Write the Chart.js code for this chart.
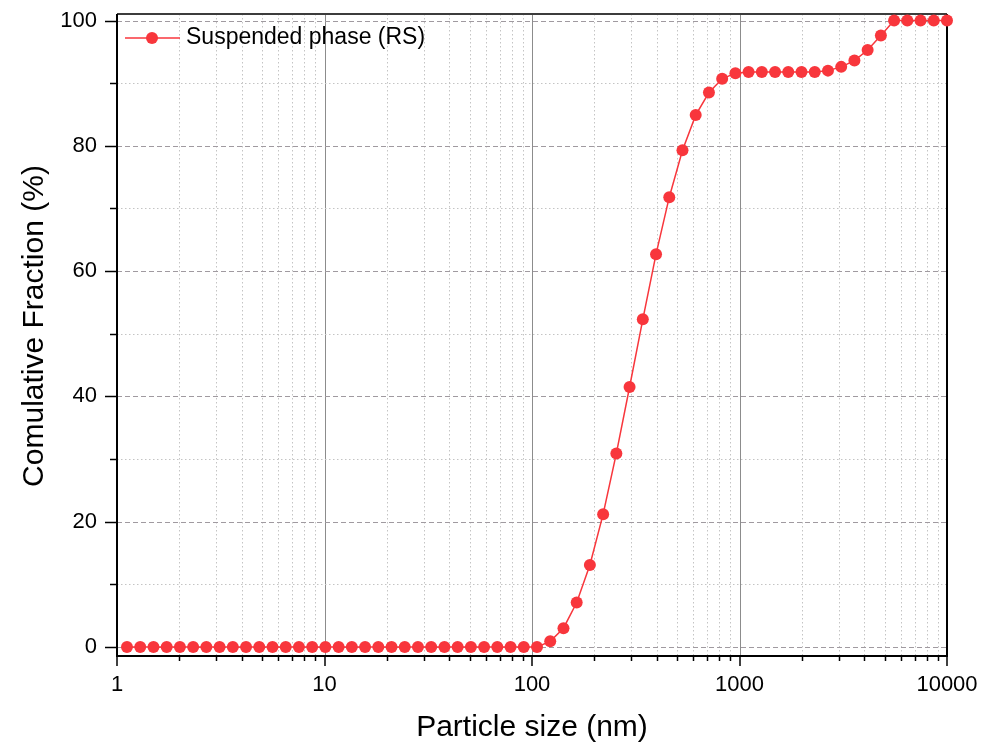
<!DOCTYPE html>
<html>
<head>
<meta charset="utf-8">
<script src="https://cdn.jsdelivr.net/npm/chart.js@4.4.0/dist/chart.umd.min.js"></script>
<style>
  body { margin: 0; background: #fff; }
  canvas { display: block; }
</style>
</head>
<body>
<canvas id="psd" width="986" height="747"></canvas>
<script>
// particle size bins (nm) and cumulative fraction (%)
const sizes = [1.117, 1.294, 1.499, 1.736, 2.010, 2.328, 2.696, 3.122, 3.615, 4.187,
  4.849, 5.615, 6.503, 7.531, 8.721, 10.10, 11.70, 13.54, 15.69, 18.17,
  21.04, 24.36, 28.21, 32.67, 37.84, 43.82, 50.75, 58.77, 68.06, 78.82,
  91.28, 105.7, 122.4, 141.8, 164.2, 190.1, 220.2, 255.0, 295.3, 342.0,
  396.1, 458.7, 531.2, 615.1, 712.4, 825.0, 955.4, 1106, 1281, 1484,
  1718, 1990, 2305, 2669, 3091, 3580, 4145, 4801, 5560, 6439,
  7456, 8635, 10000];
const cumulative = [0, 0, 0, 0, 0, 0, 0, 0, 0, 0,
  0, 0, 0, 0, 0, 0, 0, 0, 0, 0,
  0, 0, 0, 0, 0, 0, 0, 0, 0, 0,
  0, 0, 0.9, 3.0, 7.1, 13.1, 21.2, 30.9, 41.5, 52.3,
  62.7, 71.8, 79.3, 84.9, 88.5, 90.7, 91.6, 91.8, 91.8, 91.8,
  91.8, 91.8, 91.8, 92.0, 92.6, 93.6, 95.3, 97.6, 100, 100,
  100, 100, 100];
const xTicks = [1, 10, 100, 1000, 10000];
const yTicks = [0, 20, 40, 60, 80, 100];
const yMinor = [10, 30, 50, 70, 90];
const seriesName = 'Suspended phase (RS)';

const RED = '#f8363c';
const FONT = '"Liberation Sans", Arial, sans-serif';

// grid, frame, ticks, titles and legend
const plotStyle = {
  id: 'plotStyle',
  beforeDatasetsDraw(chart) {
    const { ctx, chartArea: a, scales: { x, y } } = chart;
    ctx.save();
    ctx.lineWidth = 1;

    // vertical minor (dotted) and major (solid) lines
    for (let d = 1; d < 10000; d *= 10) {
      for (let m = 2; m <= 9; m++) {
        const px = Math.round(x.getPixelForValue(d * m)) + 0.5;
        ctx.strokeStyle = '#c4c4c4';
        ctx.setLineDash([1.5, 2.5]);
        ctx.beginPath(); ctx.moveTo(px, a.top); ctx.lineTo(px, a.bottom); ctx.stroke();
      }
    }
    ctx.setLineDash([]);
    ctx.strokeStyle = '#8c8c8c';
    [10, 100, 1000].forEach(v => {
      const px = Math.round(x.getPixelForValue(v)) + 0.5;
      ctx.beginPath(); ctx.moveTo(px, a.top); ctx.lineTo(px, a.bottom); ctx.stroke();
    });

    // horizontal minor (dotted) and major (dashed) lines
    ctx.strokeStyle = '#c4c4c4';
    ctx.setLineDash([1.5, 2.5]);
    yMinor.forEach(v => {
      const py = Math.round(y.getPixelForValue(v)) + 0.5;
      ctx.beginPath(); ctx.moveTo(a.left, py); ctx.lineTo(a.right, py); ctx.stroke();
    });
    ctx.strokeStyle = '#a09aa0';
    ctx.setLineDash([5, 3]);
    yTicks.forEach(v => {
      const py = Math.round(y.getPixelForValue(v)) + 0.5;
      ctx.beginPath(); ctx.moveTo(a.left, py); ctx.lineTo(a.right, py); ctx.stroke();
    });
    ctx.setLineDash([]);

    // frame
    ctx.strokeStyle = '#3c3c3c';
    ctx.lineWidth = 2;
    ctx.beginPath(); ctx.moveTo(a.left, a.top); ctx.lineTo(a.right, a.top); ctx.stroke();
    ctx.strokeStyle = '#000';
    ctx.beginPath();
    ctx.moveTo(a.left, a.top); ctx.lineTo(a.left, a.bottom); ctx.lineTo(a.right, a.bottom); ctx.lineTo(a.right, a.top);
    ctx.stroke();

    // tick marks
    ctx.lineWidth = 1.5;
    yTicks.forEach(v => {
      const py = Math.round(y.getPixelForValue(v)) + 0.5;
      ctx.beginPath(); ctx.moveTo(a.left - 12, py); ctx.lineTo(a.left, py); ctx.stroke();
    });
    yMinor.forEach(v => {
      const py = Math.round(y.getPixelForValue(v)) + 0.5;
      ctx.beginPath(); ctx.moveTo(a.left - 7, py); ctx.lineTo(a.left, py); ctx.stroke();
    });
    xTicks.forEach(v => {
      const px = Math.round(x.getPixelForValue(v));
      ctx.beginPath(); ctx.moveTo(px, a.bottom); ctx.lineTo(px, a.bottom + 10); ctx.stroke();
    });
    for (let d = 1; d < 10000; d *= 10) {
      for (let m = 2; m <= 9; m++) {
        const px = Math.round(x.getPixelForValue(d * m)) + 0.5;
        ctx.beginPath(); ctx.moveTo(px, a.bottom); ctx.lineTo(px, a.bottom + 5); ctx.stroke();
      }
    }
    ctx.restore();
  },
  afterDraw(chart) {
    const { ctx, chartArea: a } = chart;
    ctx.save();
    ctx.fillStyle = '#000';

    // axis titles
    ctx.font = '30px ' + FONT;
    ctx.textAlign = 'center';
    ctx.textBaseline = 'alphabetic';
    ctx.fillText('Particle size (nm)', (a.left + a.right) / 2, 736);
    ctx.translate(43, 326);
    ctx.rotate(-Math.PI / 2);
    ctx.fillText('Comulative Fraction (%)', 0, 0);
    ctx.setTransform(1, 0, 0, 1, 0, 0);

    // legend
    const ly = 38;
    ctx.strokeStyle = RED;
    ctx.lineWidth = 1.5;
    ctx.beginPath(); ctx.moveTo(125, ly); ctx.lineTo(180, ly); ctx.stroke();
    ctx.fillStyle = RED;
    ctx.beginPath(); ctx.arc(152, ly, 6, 0, Math.PI * 2); ctx.fill();
    ctx.fillStyle = '#000';
    ctx.font = '23px ' + FONT;
    ctx.textAlign = 'left';
    ctx.textBaseline = 'middle';
    ctx.fillText(seriesName, 186, ly);
    ctx.restore();
  }
};

const ctx = document.getElementById('psd').getContext('2d');
new Chart(ctx, {
  type: 'scatter',
  data: {
    datasets: [{
      label: seriesName,
      data: sizes.map((s, i) => ({ x: s, y: cumulative[i] })),
      showLine: true,
      borderColor: RED,
      backgroundColor: RED,
      borderWidth: 1.5,
      pointRadius: 6,
      pointBorderWidth: 0,
      clip: false
    }]
  },
  options: {
    responsive: false,
    animation: false,
    layout: { padding: { left: 0, right: 39, top: 14, bottom: 0 } },
    plugins: { legend: { display: false }, tooltip: { enabled: false } },
    scales: {
      x: {
        type: 'logarithmic',
        min: 1,
        max: 10000,
        grid: { display: false, drawTicks: false },
        border: { display: false },
        afterBuildTicks: scale => { scale.ticks = xTicks.map(v => ({ value: v })); },
        afterFit: scale => {
          scale.height = 91;
          scale.paddingLeft = 0;
          scale.paddingRight = 0;
        },
        ticks: {
          autoSkip: false,
          maxRotation: 0,
          padding: 16,
          color: '#000',
          font: { family: FONT, size: 22 },
          callback: v => String(v)
        }
      },
      y: {
        min: -1.44,
        max: 101.04,
        grid: { display: false, drawTicks: false },
        border: { display: false },
        afterBuildTicks: scale => { scale.ticks = yTicks.map(v => ({ value: v })); },
        afterFit: scale => {
          scale.width = 117;
          scale.paddingTop = 0;
          scale.paddingBottom = 0;
        },
        ticks: {
          padding: 20,
          color: '#000',
          font: { family: FONT, size: 22 },
          callback: v => String(v)
        }
      }
    }
  },
  plugins: [plotStyle]
});
</script>
</body>
</html>
